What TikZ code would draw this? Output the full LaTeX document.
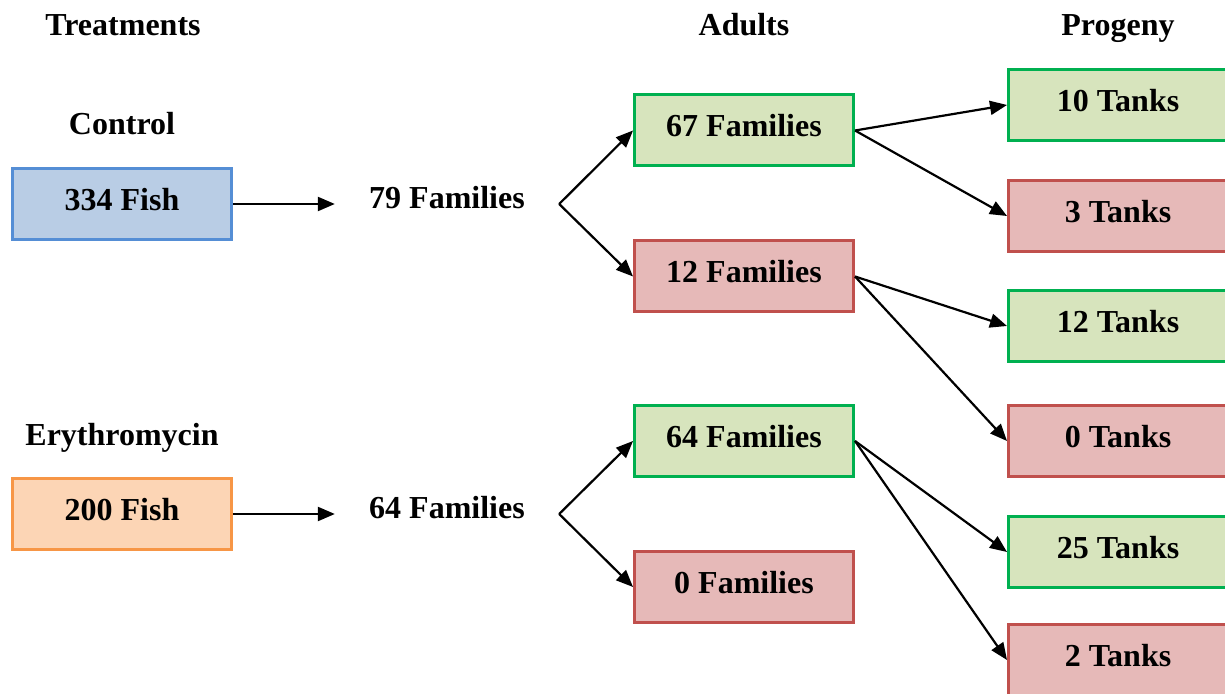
\documentclass[tikz,border=0pt]{standalone}
\usepackage{fontspec}
\setmainfont{Liberation Serif}
\usetikzlibrary{arrows.meta}
\definecolor{bluefill}{HTML}{B9CDE5}
\definecolor{blueline}{HTML}{558ED5}
\definecolor{orangefill}{HTML}{FCD5B5}
\definecolor{orangeline}{HTML}{F79646}
\definecolor{greenfill}{HTML}{D7E4BD}
\definecolor{greenline}{HTML}{00B050}
\definecolor{redfill}{HTML}{E6B9B8}
\definecolor{redline}{HTML}{C0504D}
\begin{document}
\begin{tikzpicture}[x=0.5pt,y=-0.5pt,
  txt/.style={font=\fontsize{16}{19}\selectfont\bfseries},
  box/.style={txt, draw, line width=1.5pt, minimum width=109.5pt, minimum height=35.5pt, inner sep=0pt, text height=10.5pt, text depth=4pt},
  bluebox/.style={box, draw=blueline, fill=bluefill},
  orangebox/.style={box, draw=orangeline, fill=orangefill},
  greenbox/.style={box, draw=greenline, fill=greenfill},
  redbox/.style={box, draw=redline, fill=redfill},
  lbl/.style={txt, inner sep=0pt, text height=10.5pt, text depth=0pt},
  fam/.style={txt, inner ysep=0pt, inner xsep=17pt, text height=10.5pt, text depth=0pt},
  arr/.style={-{Triangle[length=8.5pt,width=7pt]}, line width=1.1pt}]
\useasboundingbox (0,0) rectangle (1225,694);
\clip (0,0) rectangle (1225,694);
% headers
\node[lbl] (hT) at (123,25) {Treatments};
\node[lbl] (hA) at (744,25) {Adults};
\node[lbl] (hP) at (1118,25) {Progeny};
\node[lbl] (hC) at (122,124) {Control};
\node[lbl] (hE) at (122,435) {Erythromycin};
% treatment boxes
\node[bluebox] (c334) at (122,204) {334 Fish};
\node[orangebox] (e200) at (122,514) {200 Fish};
% families
\node[fam] (fam79) at (447,198) {79 Families};
\node[fam] (fam64) at (447,508) {64 Families};
% adults
\node[greenbox] (a67) at (744,130.5) {67 Families};
\node[redbox] (a12) at (744,276.5) {12 Families};
\node[greenbox] (a64) at (744,441) {64 Families};
\node[redbox] (a0) at (744,587) {0 Families};
% progeny
\node[greenbox] (p10) at (1118,105) {10 Tanks};
\node[redbox] (p3) at (1118,216) {3 Tanks};
\node[greenbox] (p12) at (1118,326) {12 Tanks};
\node[redbox] (p0) at (1118,441) {0 Tanks};
\node[greenbox] (p25) at (1118,552) {25 Tanks};
\node[redbox] (p2) at (1118,660) {2 Tanks};
% connectors
\coordinate (k79) at (c334.east -| fam79.east);
\coordinate (k64) at (e200.east -| fam64.east);
\draw[arr] (c334.east) -- (c334.east -| fam79.west);
\draw[arr] (e200.east) -- (e200.east -| fam64.west);
\draw[arr] (k79) -- (a67.west);
\draw[arr] (k79) -- (a12.west);
\draw[arr] (k64) -- (a64.west);
\draw[arr] (k64) -- (a0.west);
\draw[arr] (a67.east) -- (p10.west);
\draw[arr] (a67.east) -- (p3.west);
\draw[arr] (a12.east) -- (p12.west);
\draw[arr] (a12.east) -- (p0.west);
\draw[arr] (a64.east) -- (p25.west);
\draw[arr] (a64.east) -- (p2.west);
\end{tikzpicture}
\end{document}
